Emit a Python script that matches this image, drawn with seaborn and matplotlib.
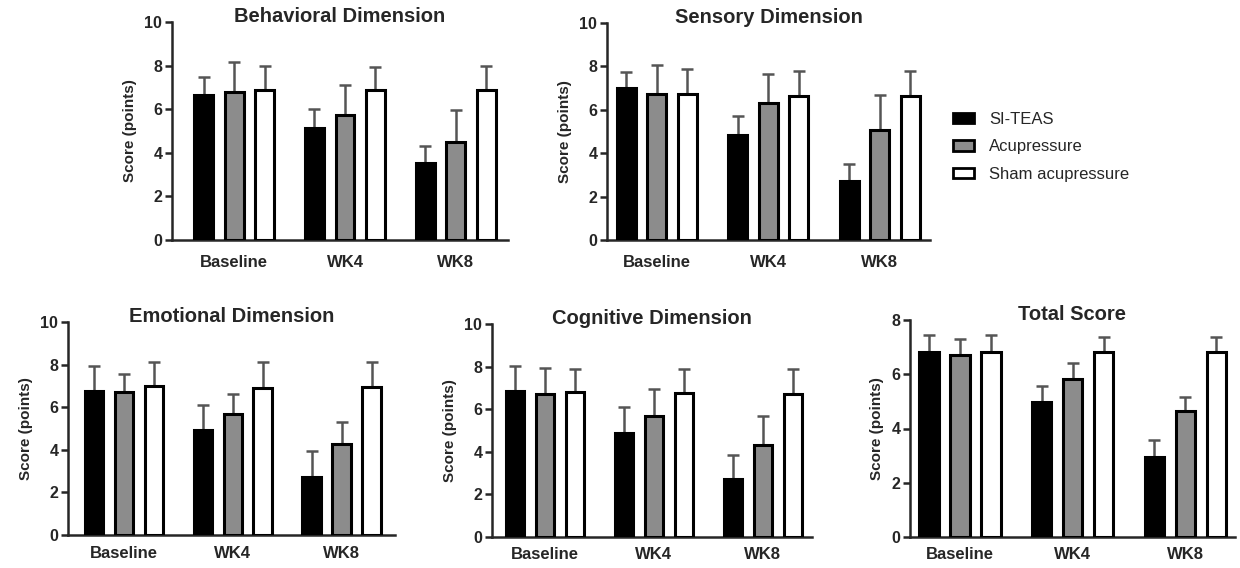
import numpy as np
import pandas as pd
import matplotlib
matplotlib.use("Agg")
import matplotlib.pyplot as plt
import seaborn as sns
from matplotlib.patches import Patch

sns.set_style("ticks")
plt.rcParams['font.family'] = ['Liberation Sans', 'DejaVu Sans']

# ---------------- data ----------------
timepoints = ["Baseline", "WK4", "WK8"]
groups = ["SI-TEAS", "Acupressure", "Sham acupressure"]

titles = ["Behavioral Dimension", "Sensory Dimension", "Emotional Dimension",
          "Cognitive Dimension", "Total Score"]

# means (per group, across timepoints)
behav_si = [6.64, 5.12, 3.53]
behav_acu = [6.80, 5.75, 4.48]
behav_sham = [6.90, 6.90, 6.90]
behav_si_sd = [0.83, 0.91, 0.80]
behav_acu_sd = [1.36, 1.37, 1.47]
behav_sham_sd = [1.08, 1.05, 1.08]

sens_si = [7.00, 4.83, 2.74]
sens_acu = [6.74, 6.31, 5.06]
sens_sham = [6.71, 6.63, 6.62]
sens_si_sd = [0.74, 0.88, 0.74]
sens_acu_sd = [1.32, 1.32, 1.60]
sens_sham_sd = [1.17, 1.17, 1.18]

emo_si = [6.77, 4.92, 2.73]
emo_acu = [6.73, 5.70, 4.28]
emo_sham = [7.00, 6.92, 6.97]
emo_si_sd = [1.15, 1.17, 1.21]
emo_acu_sd = [0.85, 0.91, 1.03]
emo_sham_sd = [1.13, 1.21, 1.16]

cog_si = [6.87, 4.89, 2.73]
cog_acu = [6.71, 5.69, 4.34]
cog_sham = [6.79, 6.74, 6.71]
cog_si_sd = [1.17, 1.21, 1.14]
cog_acu_sd = [1.24, 1.27, 1.35]
cog_sham_sd = [1.09, 1.14, 1.17]

tot_si = [6.81, 4.98, 2.95]
tot_acu = [6.72, 5.83, 4.63]
tot_sham = [6.83, 6.81, 6.81]
tot_si_sd = [0.64, 0.58, 0.61]
tot_acu_sd = [0.59, 0.58, 0.54]
tot_sham_sd = [0.62, 0.56, 0.56]

panels = [
    (behav_si, behav_acu, behav_sham, behav_si_sd, behav_acu_sd, behav_sham_sd),
    (sens_si, sens_acu, sens_sham, sens_si_sd, sens_acu_sd, sens_sham_sd),
    (emo_si, emo_acu, emo_sham, emo_si_sd, emo_acu_sd, emo_sham_sd),
    (cog_si, cog_acu, cog_sham, cog_si_sd, cog_acu_sd, cog_sham_sd),
    (tot_si, tot_acu, tot_sham, tot_si_sd, tot_acu_sd, tot_sham_sd),
]
yticks_list = [[0, 2, 4, 6, 8, 10]] * 4 + [[0, 2, 4, 6, 8]]

colors = ["#000000", "#8c8c8c", "#ffffff"]

# ---------------- layout (pixels) ----------------
W, H = 1240, 568
# (left, right, bottom, top) in pixel coords, xlim, x-label pad
boxes = [
    (172, 508, 240, 22, (-0.56, 2.47), 11.0),
    (607, 930, 240, 23, (-0.446, 2.45), 11.0),
    (68, 395, 535, 322, (-0.514, 2.49), 8.0),
    (492, 812, 537, 324, (-0.486, 2.45), 7.5),
    (910, 1235, 537, 320, (-0.444, 2.44), 7.5),
]

fig = plt.figure(figsize=(W / 100, H / 100), dpi=100)

for i, (box, pdata, yt, title) in enumerate(zip(boxes, panels, yticks_list, titles)):
    l, r, b, t, xl, xpad = box
    ax = fig.add_axes([l / W, 1 - b / H, (r - l) / W, (b - t) / H])
    means = pdata[:3]
    sds = pdata[3:]
    df = pd.DataFrame({
        "Time": np.tile(timepoints, 3),
        "Group": np.repeat(groups, 3),
        "Score": np.concatenate(means),
    })
    sns.barplot(data=df, x="Time", y="Score", hue="Group", order=timepoints,
                hue_order=groups, palette=colors, width=0.825, gap=0.38,
                edgecolor="black", linewidth=2.2, errorbar=None, legend=False,
                ax=ax, zorder=3)
    for cont, m, s in zip(ax.containers, means, sds):
        xs = [p.get_x() + p.get_width() / 2 for p in cont.patches]
        ax.errorbar(xs, m, yerr=[np.zeros(len(s)), s], fmt="none",
                    ecolor="#555555", elinewidth=1.8, capsize=4.5,
                    capthick=1.8, zorder=2)
    ax.set_xlim(*xl)
    ax.set_ylim(0, yt[-1])
    ax.set_yticks(yt)
    ax.set_xlabel("")
    ax.set_ylabel("Score (points)", fontsize=11, fontweight="bold", labelpad=5)
    sns.despine(ax=ax)
    for sp in ("left", "bottom"):
        ax.spines[sp].set_linewidth(1.8)
    ax.tick_params(axis="y", length=5, width=1.8, pad=2, labelsize=11.5)
    ax.tick_params(axis="x", length=0, pad=xpad, labelsize=12)
    for lab in ax.get_xticklabels() + ax.get_yticklabels():
        lab.set_fontweight("bold")
    ax.text(0.5, 1.0, title, transform=ax.transAxes, ha="center", va="baseline",
            fontsize=14.5, fontweight="bold")

handles = [Patch(facecolor=c, edgecolor="black", linewidth=2.0) for c in colors]
fig.legend(handles, groups, loc="upper left",
           bbox_to_anchor=(953 / W, 1 - 112 / H), frameon=False,
           fontsize=12, handlelength=1.25, handleheight=0.6,
           handletextpad=0.9, labelspacing=0.75, borderpad=0, borderaxespad=0)

fig.savefig("out.png", dpi=100)
